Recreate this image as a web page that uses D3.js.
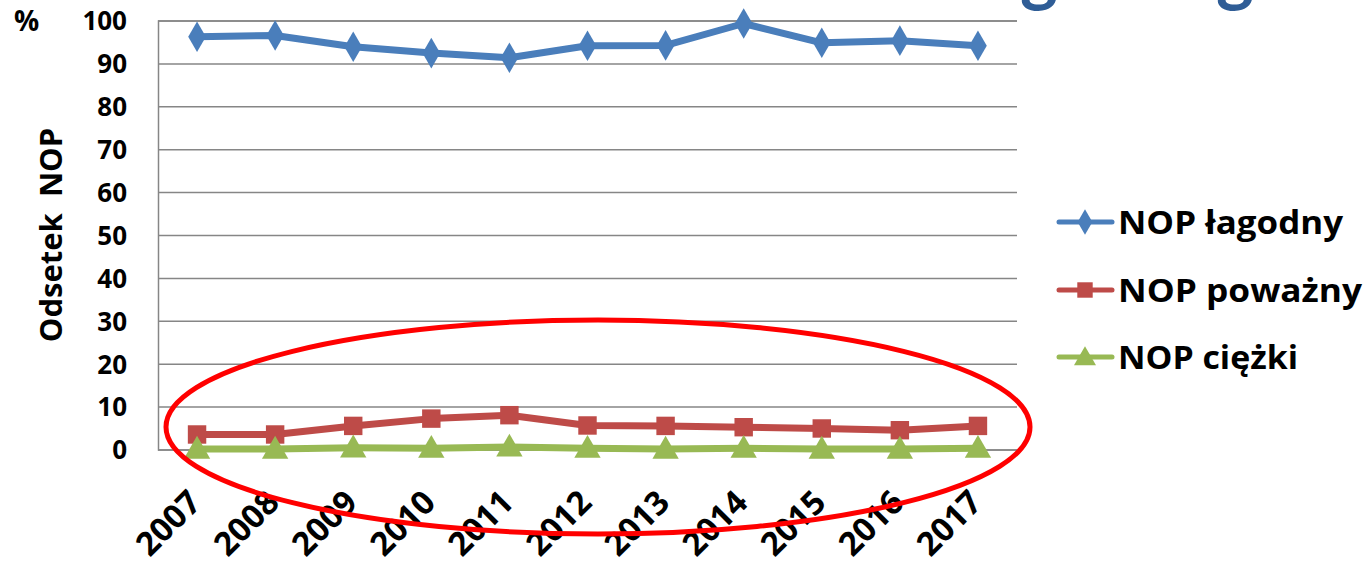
<!DOCTYPE html>
<html><head><meta charset="utf-8">
<script src="https://cdn.jsdelivr.net/npm/d3@7"></script>
<style>
html,body{margin:0;padding:0;background:#fff;}
svg{display:block;font-family:"Open Sans",Lato,sans-serif;font-weight:bold;}
</style></head>
<body>
<script>
const years = ["2007","2008","2009","2010","2011","2012","2013","2014","2015","2016","2017"];
const mild = [96.2,96.5,93.9,92.4,91.3,94.1,94.2,99.3,94.8,95.3,94.1];
const serious = [3.5,3.5,5.5,7.2,8.0,5.6,5.5,5.2,4.9,4.5,5.5];
const severe = [0.1,0.1,0.4,0.3,0.6,0.3,0.1,0.3,0.1,0.1,0.3];
const seriesNames = ["NOP łagodny","NOP poważny","NOP ciężki"];
const yTicks = [0,10,20,30,40,50,60,70,80,90,100];

const W=1367,H=572;
const svg=d3.select("body").append("svg").attr("width",W).attr("height",H);
const pL=158,pR=1017,pT=20.5,pB=449.5;
const x=d3.scaleBand().domain(years).range([pL,pR]);
const y=d3.scaleLinear().domain([0,100]).range([pB,pT]);

// title fragments (cut off at the top edge in the reference)
svg.append("text").attr("x",1020).attr("y",-3).attr("font-size",72).attr("font-family","Lato").attr("fill","#2f5d96").attr("font-weight","bold").text("g");
svg.append("text").attr("x",1216).attr("y",-3).attr("font-size",72).attr("font-family","Lato").attr("fill","#2f5d96").attr("font-weight","bold").text("g");

// gridlines + y ticks
const yAxis=d3.axisLeft(y).tickValues(yTicks).tickSize(-(pR-pL)).tickPadding(31).tickFormat(d3.format("d"));
const ga=svg.append("g").attr("transform",`translate(${pL},0)`).call(yAxis);
ga.select(".domain").attr("stroke","#868686").attr("stroke-width",1.5);
ga.selectAll(".tick line").attr("stroke","#868686").attr("stroke-width",1.5);
ga.selectAll(".tick text").attr("font-size",26).attr("font-family","Open Sans").attr("font-weight","bold").attr("fill","#000").attr("dy","0.36em");

// x labels
const xAxis=d3.axisBottom(x).tickSize(0).tickPadding(0);
const gx=svg.append("g").attr("transform",`translate(0,${pB})`).call(xAxis);
gx.select(".domain").remove();
gx.selectAll(".tick text").attr("font-size",33).attr("font-family","Open Sans").attr("font-weight","bold").attr("fill","#000")
  .attr("text-anchor","end").attr("dy",null).attr("y",0)
  .attr("transform","translate(6,55) rotate(-45)");

// "%" and y title
svg.append("text").attr("x",14).attr("y",31).attr("font-size",28).text("%");
svg.append("text").attr("transform","translate(62,235) rotate(-90)").attr("text-anchor","middle").attr("font-size",31).style("white-space","pre").text("Odsetek  NOP");

const colors=["#4a7ebb","#be4b48","#98b954"];
const data=[mild,serious,severe];
const line=d3.line().x((d,i)=>x(years[i])+x.bandwidth()/2).y(d=>y(d));
const sym=[d3.symbolDiamond,d3.symbolSquare,d3.symbolTriangle];
const symSize=[270,340,300];

data.forEach((s,k)=>{
  svg.append("path").datum(s).attr("d",line).attr("fill","none").attr("stroke",colors[k]).attr("stroke-width",7).attr("stroke-linejoin","round");
  svg.selectAll(null).data(s).enter().append("path")
    .attr("transform",(d,i)=>`translate(${x(years[i])+x.bandwidth()/2},${y(d)+(k==2?2:0)})`)
    .attr("d",d3.symbol().type(sym[k]).size(symSize[k])).attr("fill",colors[k]);
});

// legend
const legY=[222,290,357];
const legW=[225,244,180];
seriesNames.forEach((n,k)=>{
  const g=svg.append("g").attr("transform",`translate(0,${legY[k]})`);
  g.append("line").attr("x1",1059).attr("x2",1112).attr("y1",0).attr("y2",0).attr("stroke",colors[k]).attr("stroke-width",5).attr("stroke-linecap","round");
  g.append("path").attr("transform",`translate(1085,${k==2?2:0})`).attr("d",d3.symbol().type(sym[k]).size(symSize[k]*0.7)).attr("fill",colors[k]);
  g.append("text").attr("x",1118).attr("y",12).attr("font-size",32).attr("fill","#000")
    .attr("textLength",legW[k]).attr("lengthAdjust","spacingAndGlyphs").text(n);
});

// red ellipse
svg.append("ellipse").attr("cx",598).attr("cy",427).attr("rx",432).attr("ry",107).attr("fill","none").attr("stroke","#ff0000").attr("stroke-width",5);
</script>
</body></html>
